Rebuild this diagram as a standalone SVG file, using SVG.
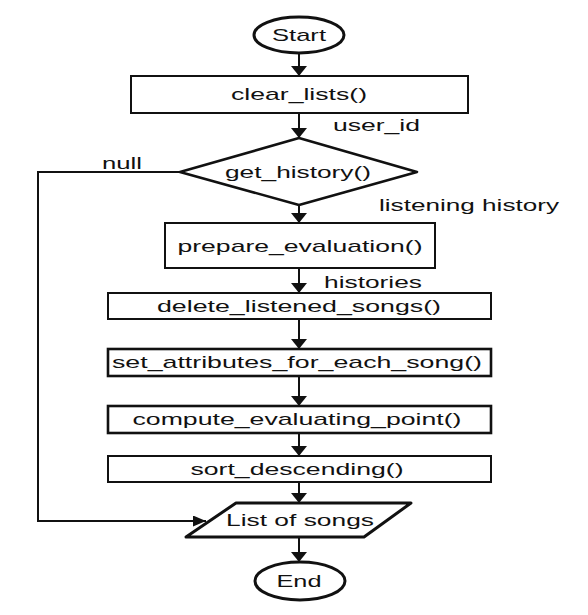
<svg xmlns="http://www.w3.org/2000/svg" width="588" height="615" viewBox="0 0 588 615">
<defs>
<style>
.bg{fill:#ffffff}
.shape{fill:#ffffff;stroke:#111111;stroke-width:2}
.thick{stroke-width:2.6}
.term{fill:#ffffff;stroke:#111111;stroke-width:3}
.lbl{font-family:"Liberation Sans",Arial,Helvetica,sans-serif;font-size:17px;fill:#111111}
.mid{text-anchor:middle}
.conn{fill:none;stroke:#111111;stroke-width:2}
</style>
<marker id="arrV" markerUnits="userSpaceOnUse" markerWidth="11" markerHeight="17" refX="10" refY="8" orient="auto" viewBox="0 0 11 17">
<path d="M0,0 L10,8 L0,16 Z" fill="#111111"/>
</marker>
<marker id="arrH" markerUnits="userSpaceOnUse" markerWidth="14" markerHeight="12" refX="13" refY="5.5" orient="auto" viewBox="0 0 14 12">
<path d="M0,0 L13,5.5 L0,11 Z" fill="#111111"/>
</marker>
</defs>
<rect class="bg" x="0" y="0" width="588" height="615"/>

<g id="connectors">
<line class="conn" x1="299" y1="53" x2="299" y2="76" marker-end="url(#arrV)"/>
<line class="conn" x1="299" y1="113" x2="299" y2="138" marker-end="url(#arrV)"/>
<line class="conn" x1="299" y1="205" x2="299" y2="223" marker-end="url(#arrV)"/>
<line class="conn" x1="299" y1="268" x2="299" y2="293" marker-end="url(#arrV)"/>
<line class="conn" x1="299" y1="319" x2="299" y2="349" marker-end="url(#arrV)"/>
<line class="conn" x1="299" y1="376" x2="299" y2="406" marker-end="url(#arrV)"/>
<line class="conn" x1="299" y1="433" x2="299" y2="456" marker-end="url(#arrV)"/>
<line class="conn" x1="299" y1="482" x2="299" y2="503" marker-end="url(#arrV)"/>
<line class="conn" x1="299" y1="537" x2="299" y2="562" marker-end="url(#arrV)"/>
<polyline class="conn" points="180,172 38,172 38,521 206,521" marker-end="url(#arrH)"/>
<text class="lbl" x="333" y="131" textLength="87" lengthAdjust="spacingAndGlyphs">user_id</text>
<text class="lbl" x="102" y="169" textLength="40" lengthAdjust="spacingAndGlyphs">null</text>
<text class="lbl" x="379" y="211" textLength="180" lengthAdjust="spacingAndGlyphs">listening history</text>
<text class="lbl" x="324" y="288" textLength="98" lengthAdjust="spacingAndGlyphs">histories</text>
</g>

<g id="start">
<ellipse class="term" cx="299" cy="35" rx="45" ry="18"/>
<text class="lbl mid" x="299" y="41" textLength="54" lengthAdjust="spacingAndGlyphs">Start</text>
</g>

<g id="clear_lists">
<rect class="shape" x="131" y="76" width="337" height="37"/>
<text class="lbl mid" x="299" y="100" textLength="136" lengthAdjust="spacingAndGlyphs">clear_lists()</text>
</g>

<g id="get_history">
<polygon class="shape thick" points="299,138 417,172 299,205 180,172" stroke-linejoin="round"/>
<text class="lbl mid" x="298" y="178" textLength="146" lengthAdjust="spacingAndGlyphs">get_history()</text>
</g>

<g id="prepare_evaluation">
<rect class="shape" x="165" y="223" width="270" height="45"/>
<text class="lbl mid" x="300" y="252" textLength="245" lengthAdjust="spacingAndGlyphs">prepare_evaluation()</text>
</g>

<g id="delete_listened_songs">
<rect class="shape" x="108" y="293" width="383" height="26"/>
<text class="lbl mid" x="299" y="312" textLength="284" lengthAdjust="spacingAndGlyphs">delete_listened_songs()</text>
</g>

<g id="set_attributes_for_each_song">
<rect class="shape thick" x="108" y="349" width="383" height="27"/>
<text class="lbl mid" x="297" y="368" textLength="370" lengthAdjust="spacingAndGlyphs">set_attributes_for_each_song()</text>
</g>

<g id="compute_evaluating_point">
<rect class="shape thick" x="108" y="406" width="383" height="27"/>
<text class="lbl mid" x="297" y="425" textLength="329" lengthAdjust="spacingAndGlyphs">compute_evaluating_point()</text>
</g>

<g id="sort_descending">
<rect class="shape" x="108" y="456" width="383" height="26"/>
<text class="lbl mid" x="297" y="475" textLength="213" lengthAdjust="spacingAndGlyphs">sort_descending()</text>
</g>

<g id="list_of_songs">
<polygon class="term" points="236,503 411,503 364,537 186,537" stroke-linejoin="round"/>
<text class="lbl mid" x="300" y="526" textLength="148" lengthAdjust="spacingAndGlyphs">List of songs</text>
</g>

<g id="end">
<ellipse class="term" cx="300" cy="581" rx="45" ry="19"/>
<text class="lbl mid" x="299" y="587" textLength="45" lengthAdjust="spacingAndGlyphs">End</text>
</g>
</svg>
